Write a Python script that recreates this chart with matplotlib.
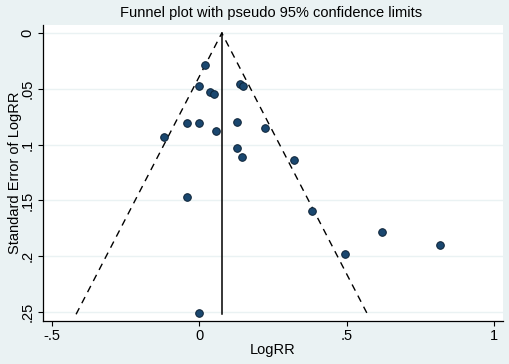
import matplotlib.pyplot as plt

plt.rcParams["font.family"] = ["Liberation Sans", "DejaVu Sans"]

# study estimates
log_rr = [0.020, 0.000, 0.139, 0.148, 0.038, 0.049, -0.041, 0.000, 0.130, 0.223,
          0.058, -0.119, 0.130, 0.146, 0.321, -0.041, 0.384, 0.620, 0.816, 0.495, 0.000]
se_log_rr = [0.029, 0.0475, 0.0457, 0.0478, 0.0529, 0.0547, 0.0806, 0.0806, 0.0795, 0.0851,
             0.0875, 0.0929, 0.103, 0.111, 0.114, 0.147, 0.1595, 0.178, 0.190, 0.198, 0.2506]
pooled = 0.077
se_max = 0.252

x_ticks = [-0.5, 0, 0.5, 1]
x_tick_labels = ["-.5", "0", ".5", "1"]
y_ticks = [0, 0.05, 0.1, 0.15, 0.2, 0.25]
y_tick_labels = ["0", ".05", ".1", ".15", ".2", ".25"]

BG = "#eaf2f3"

fig = plt.figure(figsize=(5.1, 3.64), dpi=100, facecolor=BG)
ax = fig.add_axes([43 / 510, 1 - 321 / 364, 460 / 510, 296 / 364])
ax.set_facecolor("white")

for yt in y_ticks:
    ax.axhline(yt, color=BG, lw=1.0, zorder=0)

ax.plot([pooled, pooled], [0, se_max], color="black", lw=1.1, zorder=2)
ax.plot([pooled - 1.96 * se_max, pooled, pooled + 1.96 * se_max], [se_max, 0, se_max],
        color="black", lw=1.0, ls=(0, (5, 4)), zorder=2)
ax.scatter(log_rr, se_log_rr, s=30, color="#1a476f", edgecolors="#0c2236",
           linewidths=0.7, zorder=3)

ax.set_xlim(-0.529, 1.03)
ax.set_ylim(0.258, -0.0072)
ax.set_xticks(x_ticks, x_tick_labels)
ax.set_yticks(y_ticks, y_tick_labels)
ax.tick_params(axis="y", labelrotation=90, labelsize=10.5, length=3.5, width=0.8, pad=2.5)
ax.tick_params(axis="x", labelsize=10.5, length=3.5, width=0.8, pad=2.5)
for lbl in ax.get_yticklabels():
    lbl.set_verticalalignment("center")

for side in ("top", "right"):
    ax.spines[side].set_visible(False)
for side in ("left", "bottom"):
    ax.spines[side].set_linewidth(0.9)

ax.set_xlabel("LogRR", fontsize=10.5, labelpad=0)
ax.set_ylabel("Standard Error of LogRR", fontsize=10.5, va="center")
ax.yaxis.set_label_coords(-0.061, 0.5)
fig.text(271 / 510, 1 - 13 / 364, "Funnel plot with pseudo 95% confidence limits",
         ha="center", va="center", fontsize=10.5)

fig.savefig("out.png", dpi=100, facecolor=BG)
